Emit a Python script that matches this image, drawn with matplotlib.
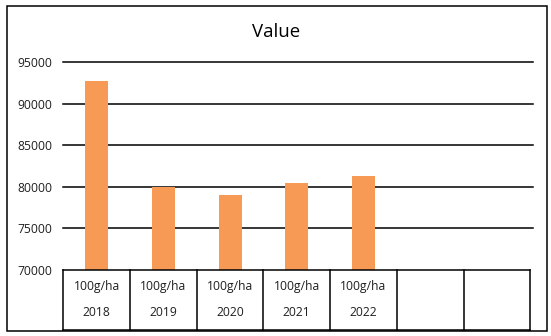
import numpy as np
import matplotlib
matplotlib.use("Agg")
import matplotlib.pyplot as plt
from matplotlib.patches import Rectangle

plt.rcParams["font.family"] = ["Open Sans", "DejaVu Sans"]

# Datos de la gráfica (eje de categorías de dos niveles, dos celdas vacías al final)
units = ["100g/ha", "100g/ha", "100g/ha", "100g/ha", "100g/ha", "", ""]
years = ["2018", "2019", "2020", "2021", "2022", "", ""]
values = [92770, 80020, 79040, 80480, 81360]
y_ticks = [70000, 75000, 80000, 85000, 90000, 95000]

BAR_COLOR = "#F79A56"
TEXT = "#1f1f1f"

W, H = 551, 336
fig = plt.figure(figsize=(W / 100, H / 100), dpi=100)

# Área de trazado en píxeles de la referencia
left, right, top, bottom = 63.3, 530.3, 62.3, 270.0
ax = fig.add_axes([left / W, 1 - bottom / H, (right - left) / W, (bottom - top) / H])

n = len(years)
x = np.arange(n)
ax.bar(x[: len(values)], values, width=0.345, color=BAR_COLOR, zorder=2)

ax.set_xlim(-0.5, n - 0.5)
ax.set_ylim(y_ticks[0], y_ticks[-1])
ax.set_yticks(y_ticks)
ax.set_yticklabels([str(v) for v in y_ticks], fontsize=8.7, color=TEXT)
ax.tick_params(axis="y", length=0, pad=8)
ax.set_xticks([])
for s in ax.spines.values():
    s.set_visible(False)

# Líneas de cuadrícula (se extienden un poco más allá de la última celda)
for v in y_ticks[1:]:
    ax.plot([-0.5, n - 0.5 + 2.4 / 66.7], [v, v], color="black", lw=1.1,
            zorder=1, clip_on=False)

# Tabla de categorías bajo el eje
box_h = 60.0 / (bottom - top)  # en fracción de ejes
tr = ax.get_xaxis_transform()
ax.plot([-0.5, n - 0.5], [0, 0], transform=tr, color="black", lw=1.1,
        clip_on=False, zorder=3)
ax.plot([-0.5, n - 0.5], [-box_h, -box_h], transform=tr, color="black", lw=1.1,
        clip_on=False)
for xb in np.arange(n + 1) - 0.5:
    ax.plot([xb, xb], [0, -box_h], transform=tr, color="black", lw=1.1,
            clip_on=False)
for xi, u, yr in zip(x, units, years):
    ax.text(xi, -16.7 / (bottom - top), u, transform=tr, ha="center",
            va="center", fontsize=8.7, color=TEXT)
    ax.text(xi, -42.3 / (bottom - top), yr, transform=tr, ha="center",
            va="center", fontsize=8.7, color=TEXT)

fig.text(276.5 / W, 1 - 31.7 / H, "Value", ha="center", va="center",
         fontsize=13.4, color="black")

# Marco exterior del gráfico
fig.patches.append(Rectangle((7 / W, 1 - 330.5 / H), 539.5 / W, 324.5 / H,
                             transform=fig.transFigure, fill=False,
                             edgecolor="black", lw=1.1))

fig.savefig("out.png", dpi=100)
